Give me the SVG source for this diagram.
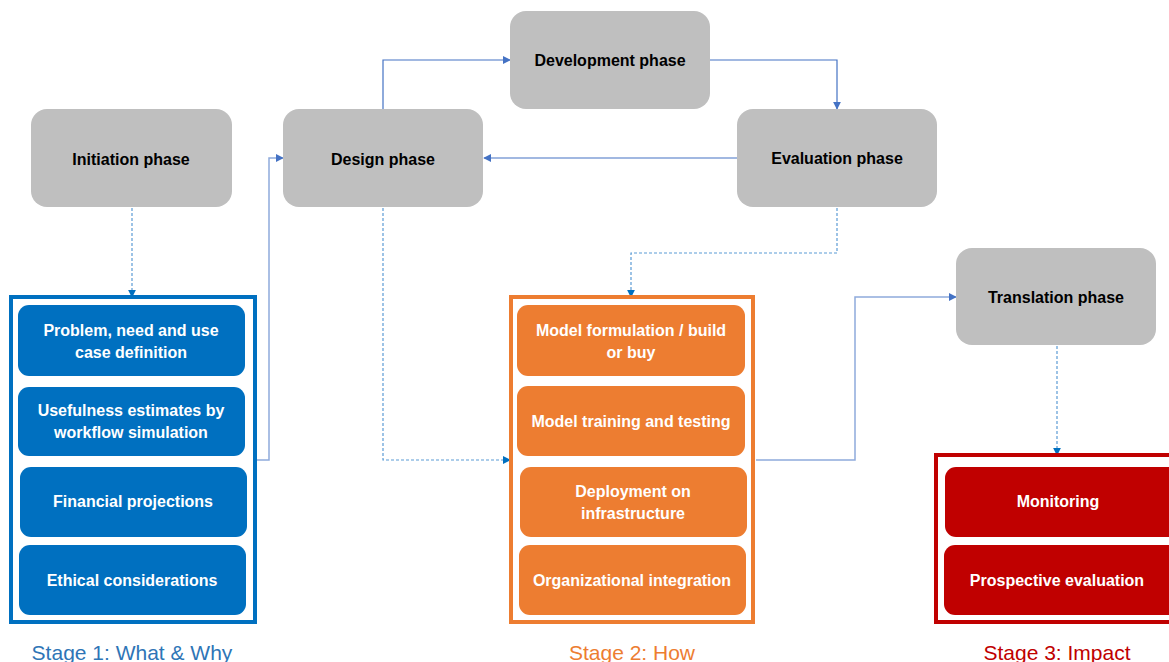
<svg xmlns="http://www.w3.org/2000/svg" width="1169" height="662" viewBox="0 0 1169 662">
<style>
.phase{fill:#BFBFBF;}
.pt{font-family:"Liberation Sans",Arial,sans-serif;font-weight:bold;font-size:16px;fill:#000;text-anchor:middle;}
.it{font-family:"Liberation Sans",Arial,sans-serif;font-weight:bold;font-size:16px;fill:#fff;text-anchor:middle;}
.blue{fill:#0070C0;}
.orange{fill:#ED7D31;}
.red{fill:#C00000;}
.solid{fill:none;stroke:#4472C4;stroke-width:1.2;}
.light{fill:none;stroke:#8FAADC;stroke-width:1.5;}
.dash{fill:none;stroke:#5B9BD5;stroke-width:1.2;stroke-dasharray:3,2;}
.cap{font-family:"Liberation Sans",Arial,sans-serif;font-size:21px;text-anchor:middle;}
</style>
<defs>
<marker id="ah" viewBox="0 0 10 10" refX="9" refY="5" markerWidth="8" markerHeight="8" markerUnits="userSpaceOnUse" orient="auto">
<path d="M0,0 L10,5 L0,10 z" fill="#4472C4"/>
</marker>
<marker id="ahd" viewBox="0 0 10 10" refX="9" refY="5" markerWidth="8" markerHeight="8" markerUnits="userSpaceOnUse" orient="auto">
<path d="M0,0 L10,5 L0,10 z" fill="#0070C0"/>
</marker>
</defs>
<rect width="1169" height="662" fill="#fff"/>

<g id="connectors">
<path class="dash" d="M132,208 V297" marker-end="url(#ahd)"/>
<path class="light" d="M257,460 H269 V158 H283" marker-end="url(#ah)"/>
<path class="solid" d="M383,109 V60 H510" marker-end="url(#ah)"/>
<path class="solid" d="M710,60 H837 V109" marker-end="url(#ah)"/>
<path class="solid" d="M737,158 H484" marker-end="url(#ah)"/>
<path class="dash" d="M837,208 V253 H631 V297" marker-end="url(#ahd)"/>
<path class="dash" d="M383,208 V460 H510" marker-end="url(#ahd)"/>
<path class="light" d="M756,460 H855 V297 H956" marker-end="url(#ah)"/>
<path class="dash" d="M1057,346 V455" marker-end="url(#ahd)"/>
</g>

<g id="initiation"><rect class="phase" x="31" y="109" width="201" height="98" rx="16"/><text class="pt" x="131" y="165">Initiation phase</text></g>
<g id="design"><rect class="phase" x="283" y="109" width="200" height="98" rx="16"/><text class="pt" x="383" y="165">Design phase</text></g>
<g id="development"><rect class="phase" x="510" y="11" width="200" height="98" rx="16"/><text class="pt" x="610" y="66">Development phase</text></g>
<g id="evaluation"><rect class="phase" x="737" y="109" width="200" height="98" rx="16"/><text class="pt" x="837" y="164">Evaluation phase</text></g>
<g id="translation"><rect class="phase" x="956" y="248" width="200" height="97" rx="16"/><text class="pt" x="1056" y="303">Translation phase</text></g>

<g id="stage1">
<rect x="11" y="297" width="244" height="325" fill="#fff" stroke="#0070C0" stroke-width="4"/>
<rect class="blue" x="18" y="305" width="227" height="71" rx="11"/>
<text class="it" x="131" y="336">Problem, need and use</text><text class="it" x="131" y="358">case definition</text>
<rect class="blue" x="18" y="387" width="227" height="69" rx="11"/>
<text class="it" x="131" y="416">Usefulness estimates by</text><text class="it" x="131" y="438">workflow simulation</text>
<rect class="blue" x="20" y="467" width="227" height="70" rx="11"/>
<text class="it" x="133" y="507">Financial projections</text>
<rect class="blue" x="19" y="545" width="227" height="70" rx="11"/>
<text class="it" x="132" y="586">Ethical considerations</text>
<text class="cap" x="132" y="660" fill="#2E75B6">Stage 1: What &amp; Why</text>
</g>

<g id="stage2">
<rect x="511" y="297" width="242" height="325" fill="#fff" stroke="#ED7D31" stroke-width="4"/>
<rect class="orange" x="517" y="305" width="228" height="71" rx="11"/>
<text class="it" x="631" y="336">Model formulation / build</text><text class="it" x="631" y="358">or buy</text>
<rect class="orange" x="517" y="386" width="228" height="70" rx="11"/>
<text class="it" x="631" y="427">Model training and testing</text>
<rect class="orange" x="520" y="467" width="227" height="70" rx="11"/>
<text class="it" x="633" y="497">Deployment on</text><text class="it" x="633" y="519">infrastructure</text>
<rect class="orange" x="519" y="545" width="227" height="70" rx="11"/>
<text class="it" x="632" y="586">Organizational integration</text>
<text class="cap" x="632" y="660" fill="#ED7D31">Stage 2: How</text>
</g>

<g id="stage3">
<rect x="936" y="455" width="240" height="167" fill="#fff" stroke="#C00000" stroke-width="4"/>
<rect class="red" x="945" y="467" width="235" height="70" rx="11"/>
<text class="it" x="1058" y="507">Monitoring</text>
<rect class="red" x="944" y="545" width="236" height="70" rx="11"/>
<text class="it" x="1057" y="586">Prospective evaluation</text>
<text class="cap" x="1057" y="660" fill="#C00000">Stage 3: Impact</text>
</g>
</svg>
